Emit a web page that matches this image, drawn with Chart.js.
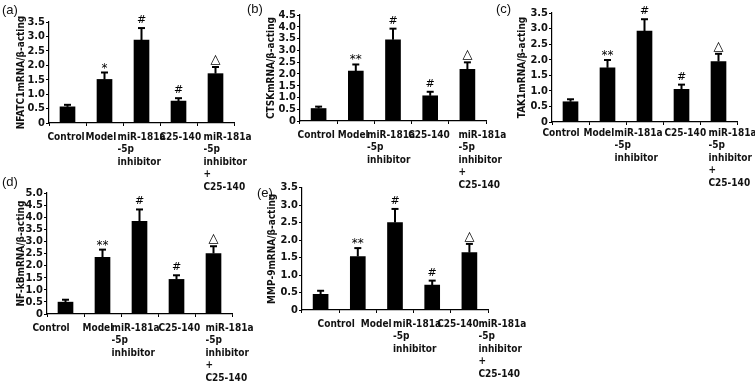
<!DOCTYPE html>
<html>
<head>
<meta charset="utf-8">
<script src="https://cdn.jsdelivr.net/npm/chart.js@4.4.1/dist/chart.umd.min.js"></script>
<style>
  html, body { margin: 0; padding: 0; background: #fff; }
  #wrap { position: relative; width: 755px; height: 385px; overflow: hidden; }
  canvas { position: absolute; }
  .tag { position: absolute; font: 13px "Liberation Sans", Arial, sans-serif; color: #111; line-height: 13px; }
</style>
</head>
<body>
<div id="wrap">
  <canvas id="chartA" width="260" height="195" style="left:0px;top:0px"></canvas>
  <canvas id="chartB" width="265" height="195" style="left:245px;top:0px"></canvas>
  <canvas id="chartC" width="260" height="195" style="left:495px;top:0px"></canvas>
  <canvas id="chartD" width="260" height="205" style="left:0px;top:180px"></canvas>
  <canvas id="chartE" width="280" height="205" style="left:250px;top:180px"></canvas>
  <div class="tag" style="left:2px;top:3px">(a)</div>
  <div class="tag" style="left:247px;top:2px">(b)</div>
  <div class="tag" style="left:496px;top:2px">(c)</div>
  <div class="tag" style="left:2px;top:175px">(d)</div>
  <div class="tag" style="left:257px;top:186px">(e)</div>
</div>
<script>
// grupos (eje x)
var categories = ['Control', 'Model', ['miR-181a', '-5p', 'inhibitor'], 'C25-140',
                  ['miR-181a', '-5p', 'inhibitor', '+', 'C25-140']];

// (a) NFATC1
var nfatc1Mean = [0.56, 1.51, 2.87, 0.76, 1.71];
var nfatc1Sd = [0.07, 0.24, 0.42, 0.10, 0.23];
var nfatc1Marks = ['', '*', '#', '#', '△'];

// (b) CTSK
var ctskMean = [0.53, 2.12, 3.45, 1.07, 2.19];
var ctskSd = [0.08, 0.28, 0.47, 0.17, 0.30];
var ctskMarks = ['', '**', '#', '#', '△'];

// (c) TAK1
var tak1Mean = [0.65, 1.74, 2.92, 1.05, 1.94];
var tak1Sd = [0.08, 0.25, 0.38, 0.15, 0.25];
var tak1Marks = ['', '**', '#', '#', '△'];

// (d) NF-kB
var nfkbMean = [0.49, 2.34, 3.83, 1.43, 2.50];
var nfkbSd = [0.10, 0.32, 0.49, 0.17, 0.30];
var nfkbMarks = ['', '**', '#', '#', '△'];

// (e) MMP-9
var mmp9Mean = [0.45, 1.53, 2.50, 0.71, 1.64];
var mmp9Sd = [0.10, 0.24, 0.39, 0.13, 0.25];
var mmp9Marks = ['', '**', '#', '#', '△'];

// limites del eje y
var yMaxA = 3.5, yMaxB = 4.5, yMaxC = 3.5, yMaxD = 5.0, yMaxE = 3.5;
var yStep = 0.5;

var FONT = '"DejaVu Sans", Verdana, sans-serif';
var FONT_C = '"DejaVu Sans Condensed", "DejaVu Sans", Verdana, sans-serif';

function makeChart(p) {
    var cv = document.getElementById(p.id);
    var L = p.left, T = p.top, W = cv.width, H = cv.height;

    var extras = {
        id: 'extras',
        afterDatasetsDraw: function(chart) {
            var ctx = chart.ctx, xs = chart.scales.x, ys = chart.scales.y;
            ctx.save();
            ctx.strokeStyle = '#000';
            ctx.fillStyle = '#000';
            p.mean.forEach(function(m, i) {
                var x = xs.getPixelForValue(i);
                var yTop = ys.getPixelForValue(m);
                var yErr = ys.getPixelForValue(m + p.sd[i]);
                // barra de error (solo hacia arriba)
                ctx.lineWidth = 2;
                ctx.beginPath();
                ctx.moveTo(x, yTop);
                ctx.lineTo(x, yErr);
                ctx.stroke();
                ctx.beginPath();
                ctx.moveTo(x - 3.5, yErr);
                ctx.lineTo(x + 3.5, yErr);
                ctx.stroke();
                // marca de significancia
                var mk = p.marks[i];
                if (mk) {
                    ctx.textAlign = 'center';
                    ctx.textBaseline = 'alphabetic';
                    if (mk === '△') {
                        ctx.font = '13px ' + FONT;
                        ctx.fillText(mk, x, yErr - 4);
                    } else if (mk === '#') {
                        ctx.font = '11px ' + FONT;
                        ctx.fillText(mk, x, yErr - 5);
                    } else {
                        ctx.font = '12px ' + FONT;
                        ctx.fillText(mk, x, yErr - 1);
                    }
                }
            });
            ctx.restore();
        },
        afterDraw: function(chart) {
            // etiquetas del eje x, alineadas a la izquierda como en la figura
            var ctx = chart.ctx, xs = chart.scales.x, ys = chart.scales.y;
            var y0 = ys.getPixelForValue(0) + p.labelDy;
            ctx.save();
            ctx.font = 'bold 10px ' + FONT_C;
            ctx.fillStyle = '#111';
            ctx.textAlign = 'left';
            ctx.textBaseline = 'middle';
            categories.forEach(function(lab, i) {
                var lines = Array.isArray(lab) ? lab : [lab];
                var x = xs.getPixelForValue(i) + p.labelDx[i];
                lines.forEach(function(t, k) {
                    ctx.fillText(t, x, y0 + k * 12.5);
                });
            });
            ctx.restore();
        }
    };

    return new Chart(cv.getContext('2d'), {
        type: 'bar',
        data: {
            labels: categories,
            datasets: [{
                data: p.mean,
                backgroundColor: '#000',
                borderWidth: 0,
                barThickness: 15
            }]
        },
        options: {
            responsive: false,
            animation: false,
            devicePixelRatio: 1,
            layout: {
                padding: { left: 0, top: p.topY - T, right: (L + W) - p.rightX, bottom: 0 }
            },
            plugins: {
                legend: { display: false },
                tooltip: { enabled: false }
            },
            scales: {
                x: {
                    ticks: { display: false },
                    grid: { drawOnChartArea: false, drawTicks: true, tickLength: 3, color: '#000', lineWidth: 1 },
                    border: { display: true, color: '#000', width: 1.2 },
                    afterFit: function(axis) { axis.height = (T + H) - p.zeroY; }
                },
                y: {
                    min: 0,
                    max: p.yMax,
                    ticks: {
                        stepSize: yStep,
                        autoSkip: false,
                        padding: 1,
                        color: '#111',
                        font: { family: FONT_C, size: 11, weight: 'bold' },
                        callback: function(v) { return v === 0 ? '0' : v.toFixed(1); }
                    },
                    grid: { drawOnChartArea: false, drawTicks: true, tickLength: 3, color: '#000', lineWidth: 1 },
                    border: { display: true, color: '#000', width: 1.2 },
                    title: {
                        display: true,
                        text: p.title,
                        color: '#111',
                        font: { family: FONT_C, size: 10, weight: 'bold' },
                        padding: { top: p.titleX - L - 6, bottom: 0 }
                    },
                    afterFit: function(axis) { axis.width = p.axisX - L; }
                }
            }
        },
        plugins: [extras]
    });
}

makeChart({ id: 'chartA', left: 0, top: 0, axisX: 49, topY: 22, zeroY: 123, rightX: 234, titleX: 21,
    yMax: yMaxA, mean: nfatc1Mean, sd: nfatc1Sd, marks: nfatc1Marks, title: 'NFATC1mRNA/β-acting',
    labelDy: 14, labelDx: [-20, -19, -24, -19, -12] });

makeChart({ id: 'chartB', left: 245, top: 0, axisX: 300, topY: 15, zeroY: 121, rightX: 486, titleX: 271,
    yMax: yMaxB, mean: ctskMean, sd: ctskSd, marks: ctskMarks, title: 'CTSKmRNA/β-acting',
    labelDy: 14, labelDx: [-21, -18, -26, -22, -9] });

makeChart({ id: 'chartC', left: 495, top: 0, axisX: 552, topY: 13, zeroY: 122, rightX: 737, titleX: 522,
    yMax: yMaxC, mean: tak1Mean, sd: tak1Sd, marks: tak1Marks, title: 'TAK1mRNA/β-acting',
    labelDy: 11, labelDx: [-28, -24, -30, -17, -10] });

makeChart({ id: 'chartD', left: 0, top: 180, axisX: 47, topY: 193, zeroY: 314, rightX: 232, titleX: 21,
    yMax: yMaxD, mean: nfkbMean, sd: nfkbSd, marks: nfkbMarks, title: 'NF-kBmRNA/β-acting',
    labelDy: 14, labelDx: [-33, -20, -28, -18, -8] });

makeChart({ id: 'chartE', left: 250, top: 180, axisX: 302, topY: 187, zeroY: 310, rightX: 488, titleX: 272,
    yMax: yMaxE, mean: mmp9Mean, sd: mmp9Sd, marks: mmp9Marks, title: 'MMP-9mRNA/β-acting',
    labelDy: 14, labelDx: [-3, 3, -2, 5, 9] });
</script>
</body>
</html>
